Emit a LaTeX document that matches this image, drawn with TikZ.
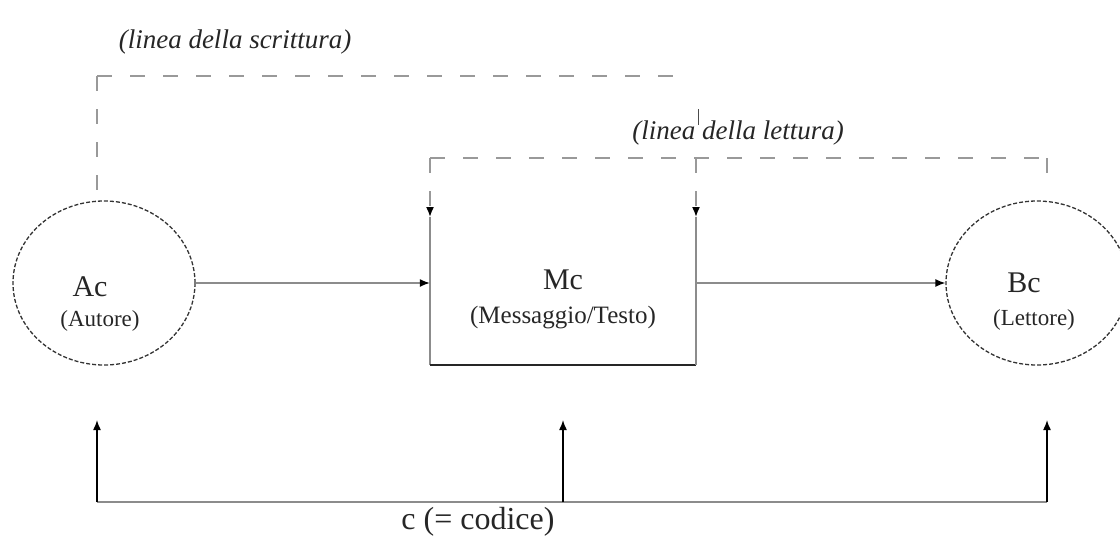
\documentclass[tikz,border=0pt]{standalone}
\usepackage{fontspec}
\setmainfont{Liberation Serif}
\usetikzlibrary{arrows.meta,shapes.geometric}
\begin{document}
\begin{tikzpicture}[x=1pt,y=-1pt,
  gline/.style={draw=black!45, line width=1.4pt},
  dline/.style={draw=black!40, line width=1.6pt, dash pattern=on 15pt off 18pt},
  tip/.style={-{Latex[length=10pt,width=8pt,color=black]}},
  circ/.style={ellipse, draw=black!80, line width=1.3pt, dash pattern=on 4pt off 2pt, minimum width=182pt, minimum height=164pt, inner sep=0pt},
  big/.style={font=\fontsize{30}{30}\selectfont, inner sep=0pt, text=black!85},
  small/.style={font=\fontsize{23}{23}\selectfont, inner sep=0pt, text=black!85},
  ital/.style={font=\fontsize{27}{27}\selectfont\itshape, inner sep=0pt, text=black!85}
]
\useasboundingbox (0,0) rectangle (1120,536);
% ellipses
\node[circ] (A) at (104,283) {};
\node[circ] (B) at (1037,283) {};
\node[big] (Ac) at (90,287) {Ac};
\node[small] (Au) at (100,321) {(Autore)};
\node[big] (Bc) at (1024,283) {Bc};
\node[small] (Le) at (1034,320) {(Lettore)};
% message box
\node[minimum width=266pt, minimum height=148pt, inner sep=0pt] (M) at (563,291) {};
\coordinate (MTL) at (430,217);
\coordinate (MTR) at (696,217);
\coordinate (MBL) at (430,365);
\coordinate (MBR) at (696,365);
\draw[gline] (MTL) -- (MBL);
\draw[black!85, line width=2pt] (MBL) -- (MBR);
\draw[gline] (MBR) -- (MTR);
\node[big] (Mc) at (563,280) {Mc};
\node[small,font=\fontsize{25}{25}\selectfont] (Mt) at (563,318) {(Messaggio/Testo)};
% horizontal arrows
\draw[gline, tip] (A.east) -- (A.east -| M.west);
\draw[gline, tip] (M.east |- B.west) -- (B.west);
% writing line
\coordinate (s1) at (97,76);
\coordinate (s2) at (680,76);
\coordinate (Atop) at (97,190);
\draw[dline] (s1) -- (Atop);
\draw[dline] (s1) -- (s2);
\node[ital] (scr) at (235,42) {(linea della scrittura)};
% reading line
\coordinate (l1) at (430,158);
\coordinate (l2) at (696,158);
\coordinate (l3) at (1047,158);
\coordinate (Btop) at (1047,190);
\draw[dline] (l1) -- (l3);
\draw[dline, tip] (l1) -- (MTL);
\draw[dline, tip] (l2) -- (MTR);
\draw[dline] (l3) -- (Btop);
\coordinate (t1) at (698,109);
\coordinate (t2) at (698,125);
\draw[black!70, line width=1pt] (t1) -- (t2);
\node[ital] (let) at (738,133) {(linea della lettura)};
% code line
\coordinate (c1) at (97,502);
\coordinate (c2) at (563,502);
\coordinate (c3) at (1047,502);
\coordinate (u1) at (97,420);
\coordinate (u2) at (563,420);
\coordinate (u3) at (1047,420);
\draw[gline] (c1) -- (c3);
\draw[black, line width=1.5pt, tip] (c1) -- (u1);
\draw[black, line width=1.5pt, tip] (c2) -- (u2);
\draw[black, line width=1.5pt, tip] (c3) -- (u3);
\node[big,font=\fontsize{32}{32}\selectfont] (code) at (478,522) {c (= codice)};
\end{tikzpicture}
\end{document}
